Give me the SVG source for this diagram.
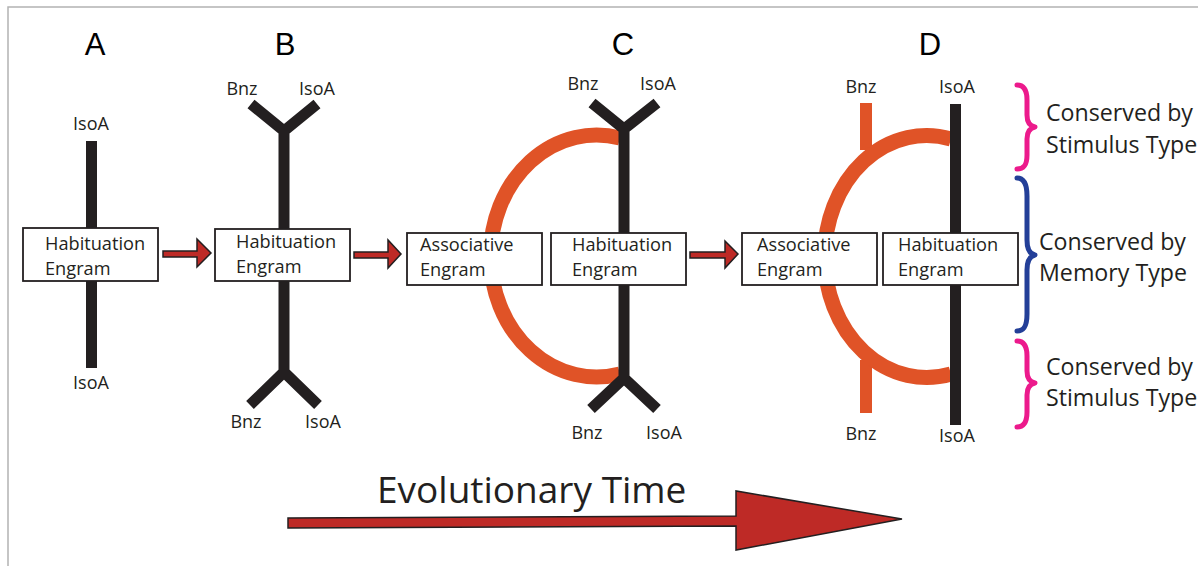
<svg xmlns="http://www.w3.org/2000/svg" width="1198" height="566" viewBox="0 0 1198 566">
<style>
.bg{fill:#ffffff}
.frame{stroke:#b3b3b3;stroke-width:1.5;fill:none}
.letter{font-family:"Liberation Sans",Arial,sans-serif;font-size:31px;fill:#000;text-anchor:middle}
.lbl{font-family:"Open Sans","Noto Sans",sans-serif;font-size:18px;fill:#231f20;text-anchor:middle}
.box{fill:#fff;stroke:#231f20;stroke-width:1.8}
.bt{font-family:"Open Sans","Noto Sans",sans-serif;font-size:18.2px;fill:#231f20}
.stem{stroke:#231f20;stroke-width:11;fill:none}
.orange{stroke:#e05327;stroke-width:15;fill:none}
.ostub{stroke:#e05327;stroke-width:12;fill:none}
.arrow{fill:#be2a26;stroke:#231f20;stroke-width:1.5;stroke-linejoin:miter}
.side{font-family:"Open Sans","Noto Sans",sans-serif;font-size:23.2px;fill:#231f20}
.brace{fill:none;stroke-width:5;stroke-linecap:round;stroke-linejoin:round}
.evo{font-family:"Open Sans","Noto Sans",sans-serif;font-size:37px;fill:#231f20}
</style>
<rect class="bg" x="0" y="0" width="1198" height="566"/>
<path class="frame" d="M8,566 L8,7 L1198,7"/>

<g id="panel-A">
  <text class="letter" x="95" y="55">A</text>
  <line class="stem" x1="91.5" y1="141" x2="91.5" y2="368"/>
  <text class="lbl" x="91" y="130">IsoA</text>
  <text class="lbl" x="91" y="389">IsoA</text>
  <g id="node-A-hab">
    <rect class="box" x="23" y="228" width="135" height="53"/>
    <text class="bt" x="45" y="250">Habituation</text>
    <text class="bt" x="45" y="275">Engram</text>
  </g>
</g>

<g id="panel-B">
  <text class="letter" x="285" y="55">B</text>
  <path class="stem" d="M251,104 L284,131 L317,104 M284,131 L284,372 M250,405 L284,372 L318,405"/>
  <text class="lbl" x="242" y="95">Bnz</text>
  <text class="lbl" x="317" y="95">IsoA</text>
  <text class="lbl" x="246" y="428">Bnz</text>
  <text class="lbl" x="323" y="428">IsoA</text>
  <g id="node-B-hab">
    <rect class="box" x="215" y="229" width="135" height="52"/>
    <text class="bt" x="236" y="248">Habituation</text>
    <text class="bt" x="236" y="273">Engram</text>
  </g>
</g>

<g id="panel-C">
  <text class="letter" x="623" y="55">C</text>
  <path class="orange" d="M620,138 A106 121 0 1 0 620,374"/>
  <path class="stem" d="M592,103 L624,129 L657,103 M624,129 L624,378 M591,409 L624,378 L657,409"/>
  <text class="lbl" x="583" y="90">Bnz</text>
  <text class="lbl" x="658" y="90">IsoA</text>
  <text class="lbl" x="587" y="439">Bnz</text>
  <text class="lbl" x="664" y="439">IsoA</text>
  <g id="node-C-assoc">
    <rect class="box" x="407" y="233" width="135" height="52"/>
    <text class="bt" x="420" y="251">Associative</text>
    <text class="bt" x="420" y="276">Engram</text>
  </g>
  <g id="node-C-hab">
    <rect class="box" x="551" y="233" width="135" height="52"/>
    <text class="bt" x="572" y="251">Habituation</text>
    <text class="bt" x="572" y="276">Engram</text>
  </g>
</g>

<g id="panel-D">
  <text class="letter" x="930" y="55">D</text>
  <path class="ostub" d="M866,103 L866,150 M866,360 L866,413"/>
  <path class="orange" d="M951,139 A102 121 0 1 0 951,374"/>
  <line class="stem" x1="955.5" y1="104" x2="955.5" y2="425"/>
  <text class="lbl" x="861" y="93">Bnz</text>
  <text class="lbl" x="957" y="93">IsoA</text>
  <text class="lbl" x="861" y="440">Bnz</text>
  <text class="lbl" x="957" y="442">IsoA</text>
  <g id="node-D-assoc">
    <rect class="box" x="742" y="233" width="135" height="52"/>
    <text class="bt" x="757" y="251">Associative</text>
    <text class="bt" x="757" y="276">Engram</text>
  </g>
  <g id="node-D-hab">
    <rect class="box" x="883" y="233" width="135" height="52"/>
    <text class="bt" x="898" y="251">Habituation</text>
    <text class="bt" x="898" y="276">Engram</text>
  </g>
</g>

<g id="braces">
  <path class="brace" stroke="#ec1a8c" d="M1017,85 C1024,85 1027,90 1027,100 L1027,115 C1027,123 1030,126 1035,127 C1030,128 1027,131 1027,139 L1027,155 C1027,165 1024,169 1017,169"/>
  <path class="brace" stroke="#233f98" d="M1017,178 C1024,178 1027,184 1027,196 L1027,240 C1027,250 1030,254 1035,255 C1030,256 1027,260 1027,270 L1027,314 C1027,326 1024,331 1017,331"/>
  <path class="brace" stroke="#ec1a8c" d="M1017,341 C1024,341 1027,346 1027,356 L1027,371 C1027,379 1030,382 1035,383 C1030,384 1027,387 1027,395 L1027,412 C1027,422 1024,427 1017,427"/>
  <text class="side" x="1046" y="121">Conserved by</text>
  <text class="side" x="1046" y="153">Stimulus Type</text>
  <text class="side" x="1039" y="250">Conserved by</text>
  <text class="side" x="1039" y="281">Memory Type</text>
  <text class="side" x="1046" y="375">Conserved by</text>
  <text class="side" x="1046" y="406">Stimulus Type</text>
</g>

<g id="connectors">
  <path class="arrow" d="M163,251 L197,251 L197,239 L211,253 L197,267 L197,257 L163,257 Z"/>
  <path class="arrow" d="M354,252 L388,252 L388,240 L401,254 L388,268 L388,258 L354,258 Z"/>
  <path class="arrow" d="M690,252 L725,252 L725,241 L738,254 L725,268 L725,258 L690,258 Z"/>
</g>

<g id="evolution">
  <text class="evo" x="377" y="503">Evolutionary Time</text>
  <path class="arrow" d="M288,518 L736,516 L736,491 L902,519 L736,550 L736,526 L288,528 Z"/>
</g>
</svg>
